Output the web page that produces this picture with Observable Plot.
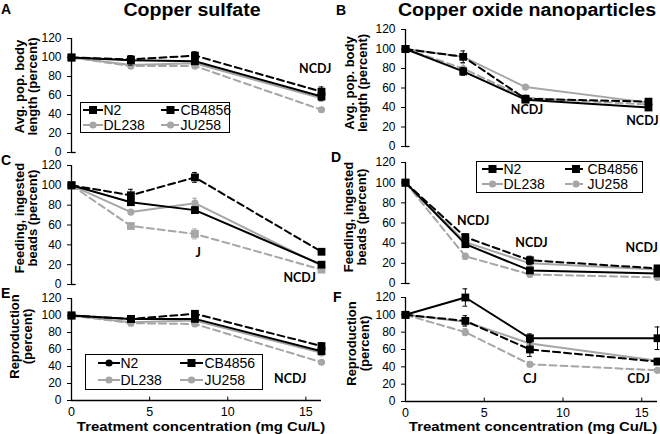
<!DOCTYPE html>
<html><head><meta charset="utf-8">
<script src="https://cdn.jsdelivr.net/npm/d3@7"></script>
<script src="https://cdn.jsdelivr.net/npm/@observablehq/plot@0.6"></script>
<style>
body{margin:0;background:#fff;}
#root{position:relative;width:660px;height:434px;overflow:hidden;font-family:"Liberation Sans",Arial,sans-serif;color:#000;}
#root svg{position:absolute;}
.title{position:absolute;font-weight:bold;font-size:17.5px;line-height:18px;white-space:nowrap;transform:translateX(-50%) scaleX(1.12);}
.letter{position:absolute;font-weight:bold;font-size:14px;line-height:14px;}
.xtitle{position:absolute;font-weight:bold;font-size:13px;line-height:13px;white-space:nowrap;transform:translateX(-50%) scaleX(1.15);}
.legend{position:absolute;border:1.5px solid #000;background:#fff;box-sizing:border-box;}
.legend span{position:absolute;white-space:nowrap;transform:translateY(-50%);}
</style></head><body><div id="root"></div>
<script>
// ---------- data ----------
const conc = [0, 3.8, 7.9, 16];
const strains = ["N2", "CB4856", "DL238", "JU258"];
const yTicks = [0, 20, 40, 60, 80, 100, 120];
const xTicks = [0, 5, 10, 15];

const bodySulfate    = {N2:[100,97,96,59],  CB4856:[100,98,102,64], DL238:[100,92,94,57], JU258:[100,91,91,45]};
const bodySulfateErr = {N2:[2,5,3,4],       CB4856:[2,3,4,5],       DL238:[2,2,3,3],      JU258:[2,2,2,2]};
const bodyNano       = {N2:[100,77,48,40],  CB4856:[100,92,49,46],  DL238:[100,92,61,45], JU258:[100,80,50,43]};
const bodyNanoErr    = {N2:[2,4,2,2],       CB4856:[2,6,2,2],       DL238:[2,3,2,2],      JU258:[2,5,2,2]};
const feedSulfate    = {N2:[100,83,75,20],  CB4856:[100,90,108,33], DL238:[100,73,82,19], JU258:[100,59,51,15]};
const feedSulfateErr = {N2:[2,3,3,2],       CB4856:[2,6,5,2],       DL238:[2,2,5,2],      JU258:[2,2,5,2]};
const feedNano       = {N2:[100,39,13,10],  CB4856:[100,46,23,15],  DL238:[100,41,20,14], JU258:[100,27,9,6]};
const feedNanoErr    = {N2:[2,3,2,2],       CB4856:[2,3,4,2],       DL238:[2,3,3,2],      JU258:[2,3,2,2]};
const reproSulfate   = {N2:[100,96,96,58],  CB4856:[100,96,102,64], DL238:[100,92,94,56], JU258:[100,91,90,45]};
const reproSulfateErr= {N2:[2,3,3,3],       CB4856:[2,3,3,4],       DL238:[2,2,3,3],      JU258:[2,2,3,2]};
const reproNano      = {N2:[100,120,73,73], CB4856:[100,93,60,46],  DL238:[100,92,67,47], JU258:[100,80,43,36]};
const reproNanoErr   = {N2:[2,10,5,13],     CB4856:[2,6,8,3],       DL238:[2,4,3,2],      JU258:[2,4,3,2]};

const notesA = [{x:15.6, y:88, t:"NCDJ"}];
const notesB = [{x:8, y:37, t:"NCDJ"}, {x:15.6, y:26, t:"NCDJ"}];
const notesC = [{x:8.1, y:32, t:"J"}, {x:14.6, y:7, t:"NCDJ"}];
const notesD = [{x:4.3, y:62, t:"NCDJ"}, {x:8, y:40, t:"NCDJ"}, {x:15.0, y:35, t:"NCDJ"}];
const notesE = [{x:14, y:25, t:"NCDJ"}];
const notesF = [{x:7.9, y:26, t:"CJ"}, {x:14.8, y:26, t:"CDJ"}];

const titles = ["Copper sulfate", "Copper oxide nanoparticles"];
const yLabels = {body:"Avg. pop. body\nlength (percent)", feed:"Feeding, ingested\nbeads (percent)", repro:"Reproduction\n(percent)"};
const xLabel = "Treatment concentration (mg Cu/L)";

// ---------- styles ----------
const BLACK = "#000", GREY = "#a6a6a6";
const seriesStyle = {
  N2:     {color:BLACK, dash:null,  symbol:"square"},
  CB4856: {color:BLACK, dash:"7,4", symbol:"square"},
  DL238:  {color:GREY,  dash:null,  symbol:"circle"},
  JU258:  {color:GREY,  dash:"7,4", symbol:"circle"}
};
const drawOrder = ["JU258", "DL238", "CB4856", "N2"];
const root = document.getElementById("root");

function panel(cfg) {
  const top = cfg.y120 - 14;
  const bottom = cfg.xaxis ? 434 : cfg.y0 + 12;
  const height = bottom - top;
  const width = 330;
  const marks = [];
  marks.push(Plot.ruleX([0], {stroke:BLACK, strokeWidth:1.3}));
  marks.push(Plot.axisY({ticks:yTicks, tickSize:4, tickPadding:6, fontSize:12, label:null, tickFormat:d=>d}));
  if (cfg.xaxis) {
    marks.push(Plot.ruleY([0], {stroke:BLACK, strokeWidth:1.3}));
    marks.push(Plot.ruleX(xTicks.slice(1), {y1:0, y2:4, stroke:BLACK}));
    marks.push(Plot.axisX({ticks:xTicks, tickSize:0, tickPadding:7, fontSize:12.5, label:null}));
  } else {
    marks.push(Plot.ruleY([0], {x1:0, x2:0.3, stroke:BLACK, strokeWidth:1.3}));
  }
  for (const s of drawOrder) {
    const st = seriesStyle[s];
    const sym = (cfg.symbols && cfg.symbols[s]) || st.symbol;
    const data = conc.map((c, i) => ({x:c, y:cfg.values[s][i], e:cfg.errors[s][i]}));
    marks.push(Plot.ruleX(data, {x:"x", y1:d=>d.y-d.e, y2:d=>d.y+d.e, stroke:st.color, strokeWidth:1}));
    marks.push(Plot.ruleY(data, {y:d=>d.y+d.e, x1:d=>d.x-0.15, x2:d=>d.x+0.15, stroke:st.color, strokeWidth:1}));
    marks.push(Plot.ruleY(data, {y:d=>d.y-d.e, x1:d=>d.x-0.15, x2:d=>d.x+0.15, stroke:st.color, strokeWidth:1}));
    marks.push(Plot.line(data, {x:"x", y:"y", stroke:st.color, strokeWidth:2, strokeDasharray:st.dash}));
    marks.push(Plot.dot(data, {x:"x", y:"y", symbol:sym, r: sym === "square" ? 4.4 : 3.6, fill:st.color, stroke:"none"}));
  }
  marks.push(Plot.text(cfg.notes, {x:"x", y:"y", text:"t", fontFamily:"Lato", fontWeight:"bold", fontSize:12.5, fill:BLACK}));
  marks.push(Plot.text([cfg.ylabel], {frameAnchor:"left", text:d=>d, rotate:-90, dx:cfg.ldx, dy:cfg.ldy,
    textAnchor:"middle", lineAnchor:"middle", lineHeight:0.98, fontWeight:"bold", fontSize:13, fill:BLACK}));
  const svg = Plot.plot({
    width, height,
    marginLeft: cfg.x0 - cfg.left,
    marginRight: cfg.left + width - cfg.x1,
    marginTop: cfg.y120 - top,
    marginBottom: bottom - cfg.y0,
    x: {domain:[0,16], axis: cfg.xaxis ? undefined : null},
    y: {domain:[0,120]},
    style: {background:"transparent", overflow:"visible", fontFamily:"'Liberation Sans', Arial, sans-serif", color:"#000"},
    marks
  });
  svg.style.left = cfg.left + "px";
  svg.style.top = top + "px";
  root.appendChild(svg);
}

panel({left:0,   x0:71,  x1:321, y120:38,  y0:152, values:bodySulfate,  errors:bodySulfateErr,  notes:notesA, ylabel:yLabels.body,  ldx:-45, ldy:-9});
panel({left:330, x0:405, x1:648, y120:29,  y0:146, values:bodyNano,     errors:bodyNanoErr,     notes:notesB, ylabel:yLabels.body,  ldx:-49, ldy:-5});
panel({left:0,   x0:71,  x1:321, y120:165, y0:284, values:feedSulfate,  errors:feedSulfateErr,  notes:notesC, ylabel:yLabels.feed,  ldx:-45, ldy:-7, symbols:{JU258:"square"}});
panel({left:330, x0:405, x1:657, y120:162, y0:283, values:feedNano,     errors:feedNanoErr,     notes:notesD, ylabel:yLabels.feed,  ldx:-50, ldy:-6});
panel({left:0,   x0:71,  x1:321, y120:298, y0:400, values:reproSulfate, errors:reproSulfateErr, notes:notesE, ylabel:yLabels.repro, ldx:-50, ldy:-13, xaxis:true});
panel({left:330, x0:405, x1:657, y120:297, y0:401, values:reproNano,    errors:reproNanoErr,    notes:notesF, ylabel:yLabels.repro, ldx:-47, ldy:-6, xaxis:true});

// ---------- html text ----------
function addDiv(cls, text, left, top) {
  const d = document.createElement("div");
  d.className = cls; d.textContent = text;
  d.style.left = left + "px"; d.style.top = top + "px";
  root.appendChild(d);
  return d;
}
addDiv("title", titles[0], 192, 1);
addDiv("title", titles[1], 527, 1);
[["A",1,2],["B",336,3],["C",1,153],["D",331,150],["E",1,286],["F",333,290]].forEach(([t,l,tp]) => addDiv("letter", t, l, tp));
addDiv("xtitle", xLabel, 201, 420);
addDiv("xtitle", xLabel, 533, 420);

// ---------- legends ----------
function legend(left, top, w, h, fontSize, items) {
  const box = document.createElement("div");
  box.className = "legend";
  Object.assign(box.style, {left:left+"px", top:top+"px", width:w+"px", height:h+"px", fontSize:fontSize+"px"});
  const ns = "http://www.w3.org/2000/svg";
  const svg = document.createElementNS(ns, "svg");
  svg.setAttribute("width", w); svg.setAttribute("height", h);
  svg.style.position = "absolute"; svg.style.left = "-1.5px"; svg.style.top = "-1.5px";
  for (const it of items) {
    const st = seriesStyle[it.key];
    const dash = it.dash === undefined ? st.dash : it.dash;
    const sym = it.symbol || st.symbol;
    const ln = document.createElementNS(ns, "line");
    ln.setAttribute("x1", it.sx); ln.setAttribute("x2", it.sx + it.len);
    ln.setAttribute("y1", it.cy); ln.setAttribute("y2", it.cy);
    ln.setAttribute("stroke", st.color); ln.setAttribute("stroke-width", 2);
    if (dash) ln.setAttribute("stroke-dasharray", dash);
    svg.appendChild(ln);
    const mx = it.sx + it.len / 2;
    let m;
    if (sym === "square") {
      m = document.createElementNS(ns, "rect");
      m.setAttribute("x", mx - 4); m.setAttribute("y", it.cy - 4);
      m.setAttribute("width", 8); m.setAttribute("height", 8);
    } else {
      m = document.createElementNS(ns, "circle");
      m.setAttribute("cx", mx); m.setAttribute("cy", it.cy); m.setAttribute("r", 3.6);
    }
    m.setAttribute("fill", st.color);
    svg.appendChild(m);
    const sp = document.createElement("span");
    sp.textContent = it.key;
    sp.style.left = (it.tx - 1.5) + "px"; sp.style.top = (it.cy - 1.5) + "px";
    box.appendChild(sp);
  }
  box.appendChild(svg);
  root.appendChild(box);
}
legend(80, 102, 150, 31, 14, [
  {key:"N2", sx:3, len:20, cy:8, tx:24},
  {key:"CB4856", sx:81, len:19, cy:8, tx:101},
  {key:"DL238", sx:3, len:20, cy:23, tx:24},
  {key:"JU258", sx:81, len:19, cy:23, tx:101}
]);
legend(476, 161, 167, 32, 14, [
  {key:"N2", sx:6, len:21, cy:8, tx:28},
  {key:"CB4856", sx:89, len:22, cy:8, tx:112},
  {key:"DL238", sx:6, len:21, cy:23, tx:28},
  {key:"JU258", sx:89, len:22, cy:23, tx:112}
]);
legend(85, 354, 178, 36, 14, [
  {key:"N2", sx:13, len:22, cy:9, tx:36, symbol:"circle", dash:null},
  {key:"CB4856", sx:95, len:23, cy:9, tx:120, dash:null},
  {key:"DL238", sx:13, len:22, cy:26, tx:36, dash:null},
  {key:"JU258", sx:95, len:23, cy:26, tx:120, dash:null}
]);
</script>
</body></html>
